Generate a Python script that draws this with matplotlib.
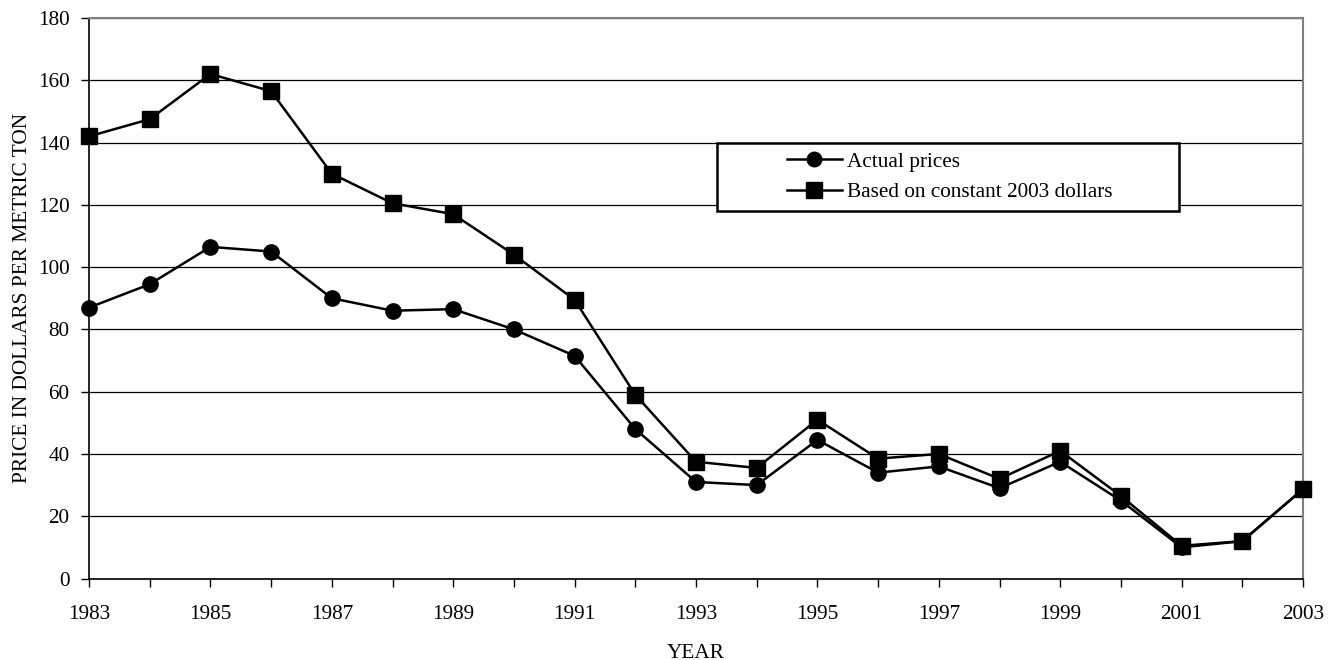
import numpy as np
import matplotlib
matplotlib.use("Agg")
import matplotlib.pyplot as plt
from matplotlib.patches import Rectangle

plt.rcParams['font.family'] = ['Liberation Serif', 'DejaVu Serif']

years = list(range(1983, 2004))
actual = [87, 94.5, 106.5, 105, 90, 86, 86.5, 80, 71.5, 48, 31,
          30, 44.5, 34, 36, 29, 37.5, 25, 10, 12, 28.7]
constant_2003 = [142, 147.5, 162, 156.5, 130, 120.5, 117, 104, 89.5, 59, 37.5,
                 35.5, 51, 38.5, 40, 32, 41, 26.5, 10.5, 12, 28.7]
labels = ['Actual prices', 'Based on constant 2003 dollars']

W, H = 1336, 660
fig = plt.figure(figsize=(W / 100, H / 100), dpi=100)
# axes box in pixels: left 89, right 1303, top 18, bottom 578.5
ax = fig.add_axes([89 / W, 1 - 578.5 / H, (1303 - 89) / W, (578.5 - 18) / H])

ax.plot(years, actual, color='black', lw=1.8, marker='o', ms=11, label=labels[0], zorder=3, clip_on=False)
ax.plot(years, constant_2003, color='black', lw=1.8, marker='s', ms=11.5, label=labels[1], zorder=3, clip_on=False)

ax.set_xlim(1983, 2003)
ax.set_ylim(0, 180)
ax.set_yticks(np.arange(0, 181, 20))
ax.set_xticks(range(1983, 2004, 2))
ax.set_xticks(range(1983, 2004), minor=True)
ax.yaxis.grid(True, color='black', lw=0.9)
ax.set_axisbelow(True)

ax.tick_params(axis='both', which='both', direction='out', length=6, width=1, labelsize=15.3, colors='black')
ax.tick_params(axis='x', pad=13)
ax.tick_params(axis='y', pad=8)

for s in ['left', 'bottom']:
    ax.spines[s].set_color('black')
    ax.spines[s].set_linewidth(1.2)
for s in ['top', 'right']:
    ax.spines[s].set_color('#808080')
    ax.spines[s].set_linewidth(1.5)

ax.set_xlabel('YEAR', fontsize=15.3)
ax.xaxis.set_label_coords(0.5, -(653 - 578.5) / (578.5 - 18), transform=ax.transAxes)
ax.set_ylabel('PRICE IN DOLLARS PER METRIC TON', fontsize=15.3)
ax.yaxis.set_label_coords(-(89 - 23) / (1303 - 89), 0.5, transform=ax.transAxes)
ax.xaxis.label.set_va('center')
ax.yaxis.label.set_va('center')

# legend box drawn separately so the frame can be wider than its contents
bx, by, bw, bh = 0.517, 0.656, 0.381, 0.121
ax.add_patch(Rectangle((bx, by), bw, bh, transform=ax.transAxes,
                       facecolor='white', edgecolor='black', lw=1.8, zorder=4))
leg = ax.legend(loc='center', bbox_to_anchor=(bx + bw / 2 + 0.0015, by + bh / 2),
                frameon=False, fontsize=15.3, handlelength=2.6, handletextpad=0.25,
                labelspacing=0.5, markerscale=0.95, borderpad=0)
leg.set_zorder(5)

fig.savefig('out.png', dpi=100)
